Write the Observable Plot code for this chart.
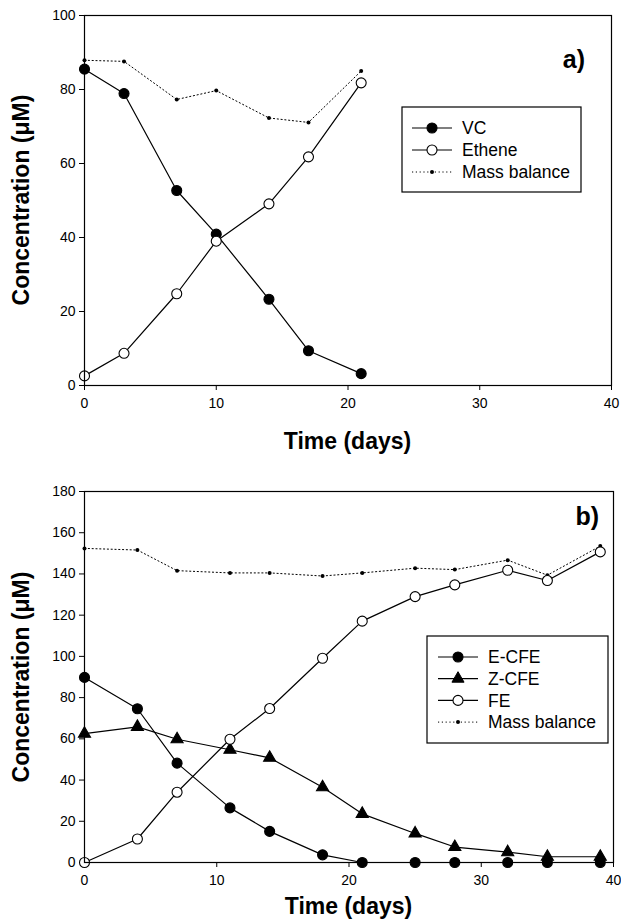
<!DOCTYPE html>
<html>
<head>
<meta charset="utf-8">
<script src="https://cdn.jsdelivr.net/npm/d3@7"></script>
<script src="https://cdn.jsdelivr.net/npm/@observablehq/plot@0.6"></script>
<style>
  html, body { margin: 0; padding: 0; background: #fff; }
  #wrap { width: 621px; }
  svg { display: block; }
</style>
</head>
<body>
<div id="wrap"></div>
<script>
// ---------- Panel a data ----------
const daysA = [0, 3, 7, 10, 14, 17, 21];
const vcA = [85.5, 78.9, 52.7, 40.9, 23.3, 9.4, 3.2];
const etheneA = [2.6, 8.7, 24.8, 39.0, 49.1, 61.8, 81.8];
const massA = [87.9, 87.6, 77.3, 79.7, 72.3, 71.1, 85.0];

// ---------- Panel b data ----------
const daysB = [0, 4, 7, 11, 14, 18, 21, 25, 28, 32, 35, 39];
const ecfeB = [89.8, 74.6, 48.2, 26.5, 15.1, 3.7, 0, 0, 0, 0, 0, 0];
const zcfeB = [62.5, 65.8, 59.8, 54.7, 50.8, 36.5, 23.6, 14.1, 7.5, 5.0, 2.8, 2.8];
const feB = [0, 11.4, 34.1, 59.8, 74.7, 99.1, 117.1, 129.0, 134.7, 141.8, 136.8, 150.7];
const massB = [152.4, 151.6, 141.6, 140.5, 140.5, 139.0, 140.5, 142.8, 142.1, 146.7, 139.4, 153.5];

const xTicks = [0, 10, 20, 30, 40];
const yTicksA = [0, 20, 40, 60, 80, 100];
const yTicksB = [0, 20, 40, 60, 80, 100, 120, 140, 160, 180];

const FONT = "'Liberation Sans', Arial, Helvetica, sans-serif";
const toRows = (days, vals) => days.map((d, i) => ({day: d, value: vals[i]}));

function lineSeries(rows, opts = {}) {
  return Plot.line(rows, {x: "day", y: "value", stroke: "black", strokeWidth: 1.2, ...opts});
}

function makePanel({height, mt, mb, mr, yDomain, yTicks, series, mass, tag, tagX, tagY, legend, yTitleY, xTitleY}) {
  const marks = [
    Plot.axisX({ticks: xTicks, tickSize: 5, tickPadding: 8, fontSize: 14, label: null, tickFormat: d => d}),
    Plot.axisY({ticks: yTicks, tickSize: 5, tickPadding: 4, fontSize: 14, label: null, tickFormat: d => d}),
    lineSeries(mass, {strokeWidth: 1, strokeDasharray: "1.2,2.6"}),
    ...series.map(s => lineSeries(s.rows)),
    Plot.dot(mass, {x: "day", y: "value", r: 2, fill: "black", stroke: "none"}),
    ...series.map(s => Plot.dot(s.rows, {x: "day", y: "value", symbol: s.symbol, r: s.r, fill: s.fill, stroke: "black", strokeWidth: 1.1})),
    Plot.frame({stroke: "black", strokeWidth: 1.2})
  ];
  const svg = Plot.plot({
    width: 621, height,
    marginLeft: 84, marginRight: mr, marginTop: mt, marginBottom: mb,
    x: {domain: [0, 40]},
    y: {domain: yDomain},
    style: {fontFamily: FONT, color: "black", background: "white"},
    marks
  });
  const s = d3.select(svg).style("overflow", "hidden");
  // axis titles
  s.append("text").attr("x", (84 + 621 - mr) / 2).attr("y", xTitleY)
    .attr("text-anchor", "middle").attr("font-family", FONT).attr("font-weight", "bold")
    .attr("font-size", 23).text("Time (days)");
  s.append("text").attr("transform", `translate(29,${yTitleY}) rotate(-90)`)
    .attr("text-anchor", "middle").attr("font-family", FONT).attr("font-weight", "bold")
    .attr("font-size", 23).text("Concentration (\u03BCM)");
  // panel tag
  s.append("text").attr("x", tagX).attr("y", tagY).attr("text-anchor", "end")
    .attr("font-family", FONT).attr("font-weight", "bold").attr("font-size", 25).text(tag);
  // legend
  const g = s.append("g");
  g.append("rect").attr("x", legend.x).attr("y", legend.y).attr("width", legend.w).attr("height", legend.h)
    .attr("fill", "white").attr("stroke", "black").attr("stroke-width", 1.2);
  legend.items.forEach((it, i) => {
    const cy = legend.rowY + i * legend.rowH;
    g.append("line").attr("x1", legend.lx1).attr("x2", legend.lx2).attr("y1", cy).attr("y2", cy)
      .attr("stroke", "black").attr("stroke-width", it.dotted ? 1 : 1.2)
      .attr("stroke-dasharray", it.dotted ? "1.2,2.6" : null);
    const mx = (legend.lx1 + legend.lx2) / 2;
    if (it.dotted) {
      g.append("circle").attr("cx", mx).attr("cy", cy).attr("r", 2).attr("fill", "black");
    } else if (it.symbol === "triangle") {
      g.append("path").attr("transform", `translate(${mx},${cy})`)
        .attr("d", d3.symbol(d3.symbolTriangle, Math.PI * 4.5 * 4.5)()).attr("fill", "black").attr("stroke", "black");
    } else {
      g.append("circle").attr("cx", mx).attr("cy", cy).attr("r", 5).attr("fill", it.fill)
        .attr("stroke", "black").attr("stroke-width", 1.1);
    }
    g.append("text").attr("x", legend.tx).attr("y", cy).attr("dy", "0.35em")
      .attr("text-anchor", "start")
      .attr("font-family", FONT).attr("font-size", 17.5).text(it.label);
  });
  return svg;
}

const wrap = document.getElementById("wrap");

wrap.appendChild(makePanel({
  height: 460, mt: 15, mb: 75, mr: 10,
  yDomain: [0, 100], yTicks: yTicksA,
  series: [
    {rows: toRows(daysA, vcA), symbol: "circle", r: 5, fill: "black"},
    {rows: toRows(daysA, etheneA), symbol: "circle", r: 5, fill: "white"}
  ],
  mass: toRows(daysA, massA),
  tag: "a)", tagX: 585, tagY: 68,
  yTitleY: 200, xTitleY: 449,
  legend: {
    x: 402, y: 107, w: 179, h: 85, rowY: 128, rowH: 22, lx1: 412, lx2: 452, tx: 462,
    items: [
      {label: "VC", fill: "black"},
      {label: "Ethene", fill: "white"},
      {label: "Mass balance", dotted: true}
    ]
  }
}));

wrap.appendChild(makePanel({
  height: 460, mt: 31, mb: 58, mr: 8,
  yDomain: [0, 180], yTicks: yTicksB,
  series: [
    {rows: toRows(daysB, zcfeB), symbol: "triangle", r: 4.5, fill: "black"},
    {rows: toRows(daysB, ecfeB), symbol: "circle", r: 5, fill: "black"},
    {rows: toRows(daysB, feB), symbol: "circle", r: 5, fill: "white"}
  ],
  mass: toRows(daysB, massB),
  tag: "b)", tagX: 599, tagY: 65,
  yTitleY: 217, xTitleY: 454,
  legend: {
    x: 427, y: 176, w: 181, h: 107, rowY: 197, rowH: 21.7, lx1: 438, lx2: 478, tx: 488,
    items: [
      {label: "E-CFE", fill: "black"},
      {label: "Z-CFE", symbol: "triangle"},
      {label: "FE", fill: "white"},
      {label: "Mass balance", dotted: true}
    ]
  }
}));
</script>
</body>
</html>
